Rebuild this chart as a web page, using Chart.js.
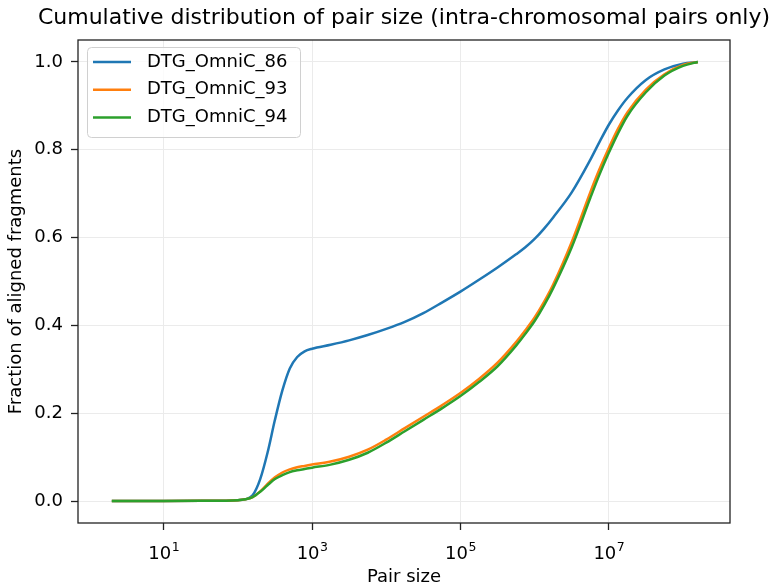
<!DOCTYPE html>
<html>
<head>
<meta charset="utf-8">
<script src="https://cdn.jsdelivr.net/npm/chart.js@4.4.1/dist/chart.umd.min.js"></script>
<style>
    html, body { margin: 0; padding: 0; background: #fff; }
</style>
</head>
<body>
<canvas id="cdf-chart" width="770" height="588"></canvas>
<script>
// Pair size (bp) sampled along the x axis
const pairSize = [2, 10, 32, 100, 126, 158, 200, 251, 316, 398, 501, 631, 794, 1000,
    1778, 3162, 5623, 10000, 17783, 31623, 56234, 100000, 177828, 316228, 562341,
    749894, 1000000, 1333521, 1778279, 3162278, 5623413, 7498942, 10000000, 13335214,
    17782794, 31622777, 56234133, 100000000, 158489319];

const sampleNames = ["DTG_OmniC_86", "DTG_OmniC_93", "DTG_OmniC_94"];

const cdf86 = [0, 0, 0.0005, 0.002, 0.004, 0.013, 0.05, 0.11, 0.185, 0.252, 0.302, 0.328,
    0.341, 0.347, 0.356, 0.366, 0.378, 0.392, 0.408, 0.428, 0.452, 0.477, 0.504, 0.532,
    0.562, 0.578, 0.597, 0.62, 0.646, 0.703, 0.777, 0.818, 0.857, 0.89, 0.918, 0.959,
    0.983, 0.996, 1.0];

const cdf93 = [0, 0, 0.0005, 0.002, 0.004, 0.009, 0.022, 0.039, 0.054, 0.065, 0.072, 0.077,
    0.08, 0.083, 0.09, 0.101, 0.117, 0.14, 0.166, 0.192, 0.218, 0.246, 0.278, 0.315,
    0.362, 0.389, 0.418, 0.453, 0.493, 0.59, 0.703, 0.756, 0.804, 0.848, 0.885, 0.937,
    0.972, 0.993, 1.0];

const cdf94 = [0, 0, 0.0005, 0.002, 0.004, 0.009, 0.021, 0.036, 0.05, 0.059, 0.066, 0.07,
    0.073, 0.076, 0.083, 0.094, 0.11, 0.133, 0.159, 0.185, 0.211, 0.239, 0.271, 0.307,
    0.354, 0.381, 0.41, 0.445, 0.485, 0.578, 0.69, 0.744, 0.793, 0.838, 0.877, 0.931,
    0.969, 0.991, 1.0];

const xTicks = [10, 1000, 100000, 10000000];
const yTicks = [0, 0.2, 0.4, 0.6, 0.8, 1.0];

const colors = ["#1f77b4", "#ff7f0e", "#2ca02c"];
const FONT = "'DejaVu Sans', sans-serif";

Chart.defaults.font.family = FONT;
Chart.defaults.font.size = 18;
Chart.defaults.color = "#000";

function toPoints(values) {
    return pairSize.map((x, i) => ({ x: x, y: values[i] }));
}

// title, frame, x tick labels with superscripts and legend box
const decorPlugin = {
    id: "decor",
    afterDraw(chart) {
        const ctx = chart.ctx;
        const a = chart.chartArea;
        ctx.save();

        // frame
        ctx.strokeStyle = "#222";
        ctx.lineWidth = 1.3;
        ctx.strokeRect(a.left, a.top, a.right - a.left, a.bottom - a.top);

        // title
        ctx.fillStyle = "#000";
        ctx.font = "22px " + FONT;
        ctx.textAlign = "center";
        ctx.textBaseline = "middle";
        ctx.fillText("Cumulative distribution of pair size (intra-chromosomal pairs only)",
            (a.left + a.right) / 2, 18);

        // x tick labels 10^n
        const xs = chart.scales.x;
        xTicks.forEach(v => {
            const px = xs.getPixelForValue(v);
            const exp = String(Math.round(Math.log10(v)));
            ctx.font = "18px " + FONT;
            const w1 = ctx.measureText("10").width;
            ctx.font = "12.5px " + FONT;
            const w2 = ctx.measureText(exp).width;
            const start = px - (w1 + w2) / 2;
            ctx.textAlign = "left";
            ctx.textBaseline = "alphabetic";
            ctx.font = "18px " + FONT;
            ctx.fillText("10", start, 559);
            ctx.font = "12.5px " + FONT;
            ctx.fillText(exp, start + w1 + 0.5, 551);
        });

        // legend
        const lx = 87, ly = 47, lw = 213, lh = 90;
        ctx.fillStyle = "rgba(255,255,255,0.8)";
        ctx.strokeStyle = "#d0d0d0";
        ctx.lineWidth = 1;
        ctx.beginPath();
        ctx.roundRect(lx + 0.5, ly + 0.5, lw, lh, 4);
        ctx.fill();
        ctx.stroke();
        ctx.font = "18px " + FONT;
        ctx.textBaseline = "middle";
        chart.data.datasets.forEach((ds, i) => {
            const y = 62 + i * 27.8;
            ctx.strokeStyle = ds.borderColor;
            ctx.lineWidth = 2.5;
            ctx.beginPath();
            ctx.moveTo(93, y);
            ctx.lineTo(131, y);
            ctx.stroke();
            ctx.fillStyle = "#000";
            ctx.fillText(ds.label, 147, y);
        });
        ctx.restore();
    }
};

const seriesValues = [cdf86, cdf93, cdf94];

new Chart(document.getElementById("cdf-chart"), {
    type: "line",
    data: {
        datasets: seriesValues.map((vals, i) => ({
            label: sampleNames[i],
            data: toPoints(vals),
            borderColor: colors[i],
            backgroundColor: colors[i],
            borderWidth: 2.5,
            pointRadius: 0,
            cubicInterpolationMode: "monotone",
            fill: false,
            order: 3 - i
        }))
    },
    options: {
        responsive: false,
        animation: false,
        devicePixelRatio: 1,
        layout: { padding: { left: 0, right: 40, top: 40, bottom: 0 } },
        plugins: {
            legend: { display: false },
            title: { display: false },
            tooltip: { enabled: false }
        },
        scales: {
            x: {
                type: "logarithmic",
                min: 0.7,
                max: 4.3e8,
                afterBuildTicks: ax => { ax.ticks = xTicks.map(v => ({ value: v })); },
                afterFit: ax => { ax.height = 65; },
                ticks: { display: false },
                grid: { color: "#ebebeb", lineWidth: 1, tickLength: 7, tickColor: "#222", tickWidth: 1.3 },
                border: { display: false },
                title: { display: true, text: "Pair size", font: { size: 18 }, padding: { top: 0, bottom: 0 } }
            },
            y: {
                min: -0.05,
                max: 1.05,
                afterBuildTicks: ax => { ax.ticks = yTicks.map(v => ({ value: v })); },
                afterFit: ax => { ax.width = 78; },
                ticks: { padding: 8, callback: v => v.toFixed(1) },
                grid: { color: "#ebebeb", lineWidth: 1, tickLength: 7, tickColor: "#222", tickWidth: 1.3 },
                border: { display: false },
                title: { display: true, text: "Fraction of aligned fragments", font: { size: 18 }, padding: { top: 6, bottom: 0 } }
            }
        }
    },
    plugins: [decorPlugin]
});
</script>
</body>
</html>
